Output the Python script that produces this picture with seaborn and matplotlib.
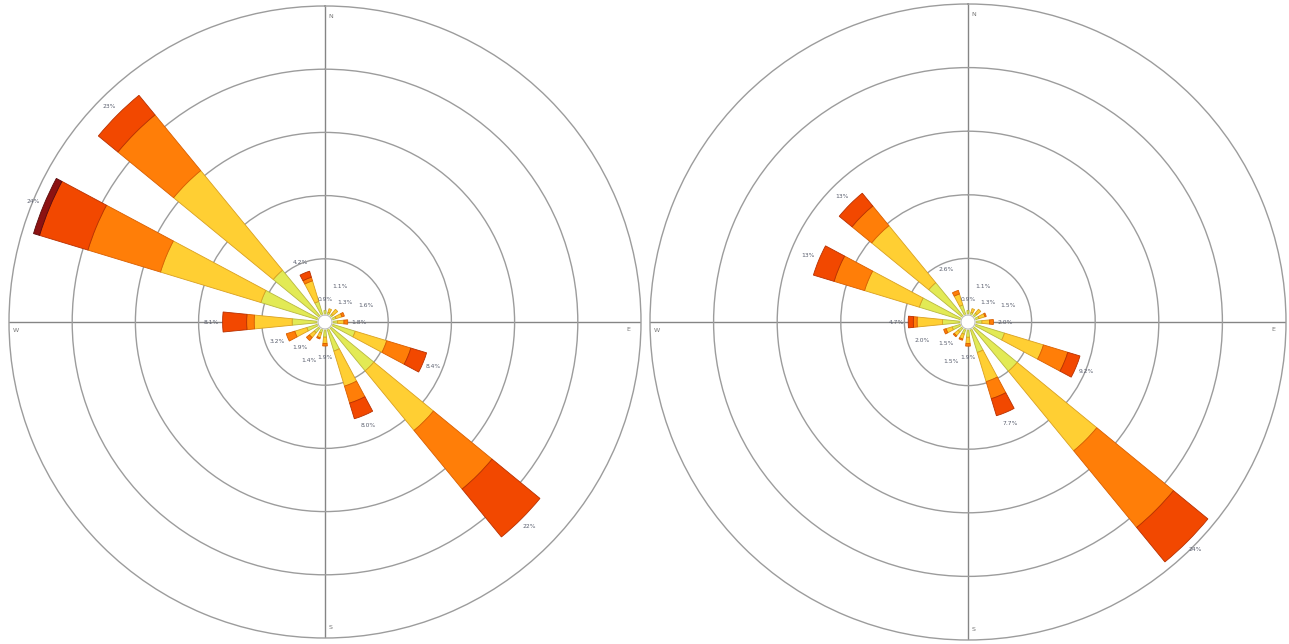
import numpy as np
import matplotlib
matplotlib.use("Agg")
import matplotlib.pyplot as plt
import seaborn as sns

# 16 compass sectors
directions = ["N", "NNE", "NE", "ENE", "E", "ESE", "SE", "SSE",
              "S", "SSW", "SW", "WSW", "W", "WNW", "NW", "NNW"]
speed_classes = ["0-2 m/s", "2-4 m/s", "4-6 m/s", "6-8 m/s", ">8 m/s"]

# Frequency (%) per speed class, first site
site_a_c1 = [0.9, 0.8, 0.8, 0.9, 1.0, 2.5, 5.0, 2.4, 1.2, 0.9, 1.1, 1.5, 2.6, 5.3, 5.3, 1.7]
site_a_c2 = [0.0, 0.3, 0.5, 0.5, 0.5, 2.6, 6.1, 2.9, 0.5, 0.4, 0.5, 1.0, 3.0, 8.3, 10.2, 1.7]
site_a_c3 = [0.0, 0.0, 0.0, 0.2, 0.3, 2.0, 6.0, 1.4, 0.2, 0.1, 0.3, 0.7, 0.6, 6.0, 5.7, 0.3]
site_a_c4 = [0.0, 0.0, 0.0, 0.0, 0.0, 1.3, 4.9, 1.3, 0.0, 0.0, 0.0, 0.0, 1.9, 4.0, 2.0, 0.5]
site_a_c5 = [0.0, 0.0, 0.0, 0.0, 0.0, 0.0, 0.0, 0.0, 0.0, 0.0, 0.0, 0.0, 0.0, 0.5, 0.0, 0.0]

# Frequency (%) per speed class, second site
site_b_c1 = [0.9, 0.8, 0.9, 0.9, 1.1, 3.0, 5.0, 2.5, 1.2, 1.0, 1.0, 1.3, 2.0, 4.0, 4.0, 1.4]
site_b_c2 = [0.0, 0.3, 0.4, 0.5, 0.6, 3.2, 8.1, 2.4, 0.5, 0.4, 0.4, 0.5, 2.0, 4.5, 5.8, 0.9]
site_b_c3 = [0.0, 0.0, 0.0, 0.1, 0.3, 2.0, 7.8, 1.4, 0.2, 0.1, 0.1, 0.2, 0.3, 2.5, 2.0, 0.3]
site_b_c4 = [0.0, 0.0, 0.0, 0.0, 0.0, 1.0, 3.5, 1.4, 0.0, 0.0, 0.0, 0.0, 0.4, 1.7, 1.3, 0.0]
site_b_c5 = [0.0] * 16

ring_values = [5, 10, 15, 20]
r_max = 25
cardinals = ["N", "E", "S", "W"]

sns.set_style("white")
palette = ["#e2ea55", "#ffcf33", "#ff7e08", "#f24800", "#8c1212"]
edges = ["#b8b840", "#d9a020", "#d85e00", "#b83000", "#5a0a0a"]

fig = plt.figure(figsize=(12.89, 6.44), dpi=100)


def draw_rose(rect, classes):
    ax = fig.add_axes(rect, projection="polar")
    ax.set_theta_zero_location("N")
    ax.set_theta_direction(-1)
    theta = np.deg2rad(np.arange(len(directions)) * 22.5)
    width = np.deg2rad(11.25)
    bottom = np.zeros(len(directions))
    for values, face, edge in zip(classes, palette, edges):
        vals = np.asarray(values, dtype=float)
        mask = vals > 0
        ax.bar(theta[mask], vals[mask], width=width, bottom=bottom[mask],
               color=face, edgecolor=edge, linewidth=0.6, zorder=3)
        bottom += vals
    # small calm circle at the centre
    circ_t = np.linspace(0, 2 * np.pi, 100)
    ax.fill(circ_t, np.full(100, 0.55), color="white", zorder=4)
    ax.plot(circ_t, np.full(100, 0.55), color="#b0b0b0", lw=0.6, zorder=5)
    # totals at bar ends; short bars get staggered labels so they stay apart
    for i, (t, tot) in enumerate(zip(theta, bottom)):
        txt = f"{tot:.0f}%" if tot >= 10 else f"{tot:.1f}%"
        off = 0.9 + (1.0 if (tot < 3 and i % 2 == 1) else 0.0)
        ax.text(t, tot + off, txt, fontsize=4.3, color="#5a5f6e",
                ha="center", va="center", zorder=6)
    ax.set_ylim(0, r_max)
    ax.set_rgrids(ring_values, labels=[])
    ax.set_thetagrids([0, 90, 180, 270], labels=[])
    ax.yaxis.grid(True, color="#9c9c9c", lw=1.0)
    ax.xaxis.grid(True, color="#858585", lw=1.0)
    ax.spines["polar"].set_color("#9c9c9c")
    ax.spines["polar"].set_linewidth(1.0)
    for lab, ang, rr in zip(cardinals, [1.0, 91.5, 179.0, 268.5], [24.2, 24.0, 24.2, 24.5]):
        ax.text(np.deg2rad(ang), rr, lab, fontsize=4.5, color="#777777",
                ha="center", va="center")
    ax.set_axisbelow(True)
    return ax


draw_rose([9 / 1289, 6 / 644, 632 / 1289, 632 / 644],
          [site_a_c1, site_a_c2, site_a_c3, site_a_c4, site_a_c5])
draw_rose([650 / 1289, 4 / 644, 636 / 1289, 636 / 644],
          [site_b_c1, site_b_c2, site_b_c3, site_b_c4, site_b_c5])

fig.savefig("out.png", dpi=100, facecolor="white")
